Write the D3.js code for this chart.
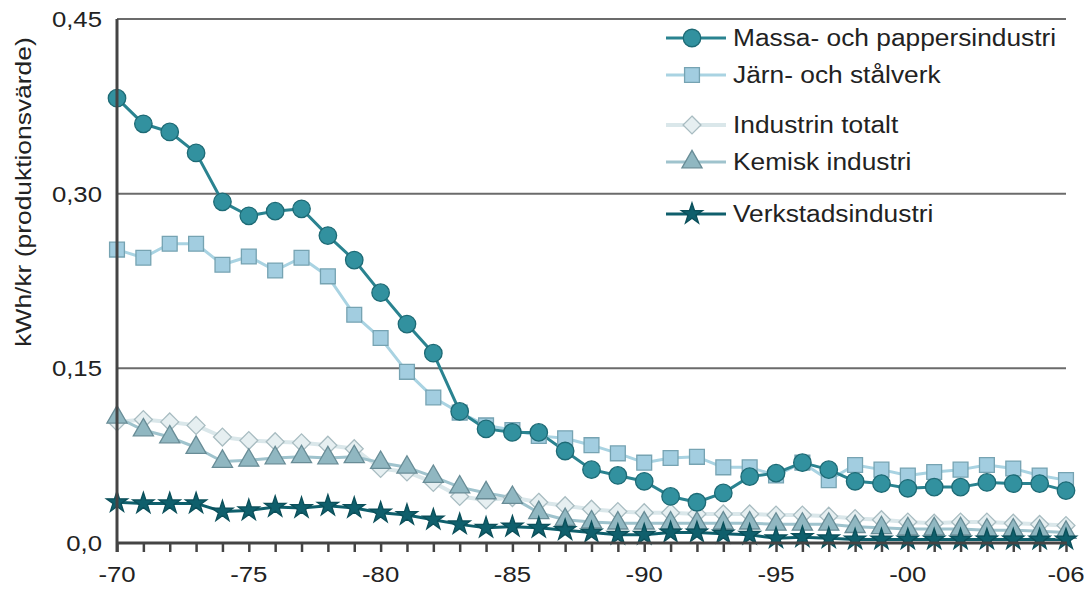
<!DOCTYPE html>
<html><head><meta charset="utf-8">
<script src="https://cdn.jsdelivr.net/npm/d3@7"></script>
<style>
html,body{margin:0;padding:0;background:#fff;}
svg text{font-family:"Liberation Sans",Arial,Helvetica,sans-serif;fill:#222;}
</style></head>
<body><svg id="chart" width="1084" height="589"></svg>
<script>
const years = d3.range(1970, 2007);
const massa = [0.382,0.360,0.353,0.335,0.293,0.281,0.285,0.287,0.264,0.243,0.215,0.188,0.163,0.113,0.098,0.095,0.095,0.079,0.063,0.058,0.053,0.040,0.035,0.043,0.057,0.060,0.069,0.063,0.053,0.051,0.047,0.048,0.048,0.052,0.051,0.051,0.045];
const jarn = [0.252,0.245,0.257,0.257,0.239,0.246,0.234,0.245,0.229,0.196,0.176,0.147,0.125,0.112,0.101,0.097,0.092,0.090,0.084,0.077,0.069,0.073,0.074,0.065,0.065,0.058,0.069,0.054,0.067,0.063,0.058,0.061,0.063,0.067,0.064,0.058,0.054];
const totalt = [0.104,0.106,0.104,0.101,0.091,0.088,0.087,0.086,0.084,0.081,0.064,0.061,0.052,0.040,0.037,0.039,0.035,0.032,0.029,0.027,0.026,0.026,0.025,0.025,0.025,0.024,0.024,0.023,0.021,0.020,0.018,0.017,0.018,0.018,0.017,0.016,0.015];
const kemisk = [0.108,0.097,0.091,0.082,0.070,0.071,0.073,0.074,0.073,0.074,0.069,0.065,0.057,0.048,0.043,0.039,0.026,0.020,0.018,0.017,0.017,0.017,0.017,0.017,0.017,0.016,0.016,0.016,0.014,0.013,0.012,0.012,0.012,0.011,0.011,0.010,0.009];
const verkstad = [0.035,0.034,0.034,0.034,0.027,0.028,0.031,0.030,0.032,0.030,0.026,0.024,0.020,0.016,0.013,0.014,0.013,0.011,0.009,0.007,0.007,0.009,0.009,0.008,0.007,0.004,0.005,0.004,0.003,0.003,0.003,0.003,0.003,0.003,0.003,0.003,0.003];
const xTickYears = [1970,1975,1980,1985,1990,1995,2000,2006];
const xTickLabels = ["-70","-75","-80","-85","-90","-95","-00","-06"];
const yTicks = [0, 0.15, 0.30, 0.45];
const yTickLabels = ["0,0","0,15","0,30","0,45"];
const yTitle = "kWh/kr (produktionsvärde)";

const diamond = {draw(ctx, size){const r=Math.sqrt(size/2); ctx.moveTo(0,-r); ctx.lineTo(r,0); ctx.lineTo(0,r); ctx.lineTo(-r,0); ctx.closePath();}};

const series = [
  {name:"Industrin totalt", values:totalt, sym:diamond, size:160, line:"#dae7ea", lw:4, fill:"#e6eff1", stroke:"#a8bcc1"},
  {name:"Kemisk industri", values:kemisk, sym:d3.symbolTriangle, size:175, line:"#9fc3cd", lw:3, fill:"#90b7c1", stroke:"#688c96"},
  {name:"Järn- och stålverk", values:jarn, sym:d3.symbolSquare, size:220, line:"#a9d3e2", lw:3, fill:"#a2cde0", stroke:"#76a3b2"},
  {name:"Massa- och pappersindustri", values:massa, sym:d3.symbolCircle, size:240, line:"#2a8390", lw:3, fill:"#32919f", stroke:"#1d6a75"},
  {name:"Verkstadsindustri", values:verkstad, sym:d3.symbolStar, size:140, line:"#0f5f6c", lw:3, fill:"#0f5f6c", stroke:"#0b4f5a"}
];
const legendOrder = ["Massa- och pappersindustri","Järn- och stålverk","Industrin totalt","Kemisk industri","Verkstadsindustri"];
const legendY = [38, 75, 125, 162, 214];

const svg = d3.select("#chart");
const x = d3.scaleLinear().domain([1970, 2006]).range([117, 1066]);
const y = d3.scaleLinear().domain([0, 0.45]).range([543, 19]);
const SX = 1.12;

// gridlines
svg.append("g").selectAll("line").data(yTicks.filter(d=>d>0)).join("line")
  .attr("x1", x(1970)).attr("x2", x(2006)).attr("y1", d=>y(d)).attr("y2", d=>y(d))
  .attr("stroke", "#6b6b6b").attr("stroke-width", 2);

// y tick labels
svg.append("g").selectAll("text").data(yTicks).join("text")
  .attr("transform", d=>`translate(102,${y(d)+8}) scale(${SX},1)`).attr("text-anchor","end")
  .attr("font-size", 23).text((d,i)=>yTickLabels[i]);

// y title
svg.append("text").attr("transform", `translate(31,192) rotate(-90) scale(1.2,1)`)
  .attr("text-anchor","middle").attr("font-size", 22).text(yTitle);

// x axis with ticks every year
const xAxis = d3.axisBottom(x).tickValues(years).tickSize(9).tickFormat("");
const gx = svg.append("g").attr("transform", `translate(0,${y(0)})`).call(xAxis);
gx.select(".domain").remove();
gx.selectAll(".tick line").attr("stroke","#444").attr("stroke-width",2.5);

svg.append("g").selectAll("text").data(xTickYears).join("text")
  .attr("transform", d=>`translate(${x(d)},582) scale(${SX},1)`).attr("text-anchor","middle")
  .attr("font-size", 23).text((d,i)=>xTickLabels[i]);

// data
const line = d3.line().x((d,i)=>x(years[i])).y(d=>y(d));
const plot = svg.append("g");
series.forEach(s=>{
  plot.append("path").datum(s.values).attr("d", line).attr("fill","none")
    .attr("stroke", s.line).attr("stroke-width", s.lw).attr("stroke-linejoin","round");
});
series.forEach(s=>{
  plot.append("g").selectAll("path").data(s.values).join("path")
    .attr("transform",(d,i)=>`translate(${x(years[i])},${y(d)})`)
    .attr("d", d3.symbol().type(s.sym).size(s.size))
    .attr("fill", s.fill).attr("stroke", s.stroke).attr("stroke-width", 1.3);
});

// axes lines
svg.append("line").attr("x1", x(1970)).attr("x2", x(2006)+1).attr("y1", y(0)).attr("y2", y(0))
  .attr("stroke","#444").attr("stroke-width",3);
svg.append("line").attr("x1", x(1970)).attr("x2", x(1970)).attr("y1", y(0.45)).attr("y2", y(0)+9)
  .attr("stroke","#444").attr("stroke-width",3);

// legend
const lg = svg.append("g");
legendOrder.forEach((name,i)=>{
  const s = series.find(t=>t.name===name);
  const ly = legendY[i];
  lg.append("line").attr("x1",666).attr("x2",726).attr("y1",ly).attr("y2",ly)
    .attr("stroke", s.line).attr("stroke-width", s.lw);
  lg.append("path").attr("transform",`translate(692,${ly})`)
    .attr("d", d3.symbol().type(s.sym).size(s.size)).attr("fill", s.fill).attr("stroke", s.stroke).attr("stroke-width",1.3);
  lg.append("text").attr("transform",`translate(733,${ly+8}) scale(${SX},1)`).attr("font-size",23.5).text(name);
});
</script></body></html>
